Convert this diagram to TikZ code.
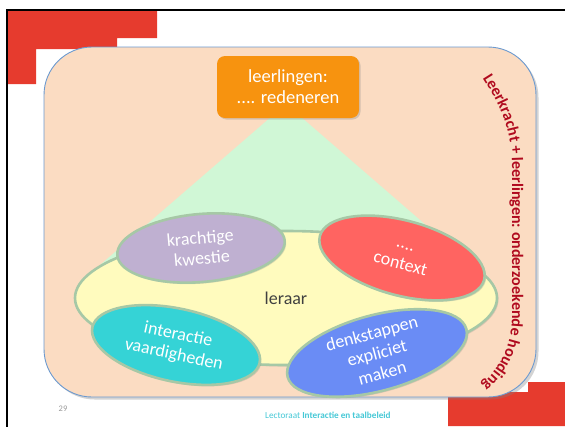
\documentclass[tikz,border=0pt]{standalone}
\usepackage{fontspec}
\setmainfont{Carlito}
\usetikzlibrary{shapes.geometric,decorations.text,shadows}
\definecolor{slidered}{HTML}{E63B2E}
\definecolor{peach}{HTML}{FBDCC2}
\definecolor{rectline}{HTML}{6C9AD0}
\definecolor{mint}{HTML}{D0F7D6}
\definecolor{lemon}{HTML}{FFFBBE}
\definecolor{ringgreen}{HTML}{A6C8A6}
\definecolor{lavender}{HTML}{BFB0D1}
\definecolor{salmon}{HTML}{FF6461}
\definecolor{turq}{HTML}{35D3D6}
\definecolor{cornflower}{HTML}{6A8CF5}
\definecolor{boxorange}{HTML}{F7930F}
\definecolor{wine}{HTML}{B00A1E}
\definecolor{footcyan}{HTML}{45C8D6}
\definecolor{darktext}{HTML}{404040}
\newcommand{\curvefont}{\fontsize{16}{18}\selectfont\bfseries}
\begin{document}
\begin{tikzpicture}[x=1pt,y=-1pt,
  blob/.style={ellipse, draw=ringgreen, line width=2.6pt, inner sep=0pt,
    text=white, align=center, font=\fontsize{18}{20.5}\selectfont,
    drop shadow={opacity=0.25, shadow xshift=1.5pt, shadow yshift=-1.5pt}},
  redblock/.style={fill=slidered, draw=none}]
\useasboundingbox (0,0) rectangle (565,426);
% red corner blocks
\fill[redblock] (7,10) -- (157,10) -- (157,38) -- (117,38) -- (117,49) -- (36,49) -- (36,84) -- (7,84) -- cycle;
\fill[redblock] (448,392) -- (528,392) -- (528,382) -- (565,382) -- (565,426) -- (448,426) -- cycle;
% black frame
\draw[line width=2.6pt, line cap=rect] (7,426) -- (7,10) -- (565,10);
% main rounded panel
\node[draw=rectline, line width=0.9pt, fill=peach, rounded corners=48pt,
  minimum width=492pt, minimum height=350pt, inner sep=0pt,
  drop shadow={opacity=0.35, shadow xshift=2.5pt, shadow yshift=-2.5pt}]
  (panel) at (290,222) {};
% triangle
\fill[mint] (286,104) -- (472,265) -- (100,265) -- cycle;
% yellow ellipse
\node[ellipse, draw=ringgreen, line width=2.6pt, fill=lemon, minimum width=422pt,
  minimum height=134pt, inner sep=0pt, text=darktext, font=\fontsize{18}{20}\selectfont,
  drop shadow={opacity=0.25, shadow xshift=1.5pt, shadow yshift=-1.5pt}]
  (leraar) at (286,298) {leraar};
% four ellipses
\node[blob, fill=lavender, minimum width=168pt, minimum height=68pt, rotate=5]
  (kwestie) at (201,248) {krachtige\\kwestie};
\node[blob, fill=salmon, minimum width=170pt, minimum height=75pt, rotate=-15]
  (context) at (402,258) {....\\context};
\node[blob, fill=turq, minimum width=171pt, minimum height=73pt, rotate=-12]
  (interactie) at (176,345) {interactie\\vaardigheden};
\node[blob, fill=cornflower, minimum width=185pt, minimum height=68pt, rotate=15]
  (denk) at (377,353) {denkstappen\\expliciet\\maken};
% orange box
\node[fill=boxorange, rounded corners=8pt, minimum width=142pt, minimum height=62pt,
  inner sep=0pt, text=white, align=center, font=\fontsize{18.5}{21}\selectfont,
  drop shadow={opacity=0.3, shadow xshift=1.5pt, shadow yshift=-1.5pt}]
  (redeneren) at (288,87) {leerlingen:\\.... redeneren};
% curved text
\path[decorate, decoration={text along path, text align=center,
  text={|\curvefont\color{wine}|Leerkracht + leerlingen: onderzoekende houding}}]
  (476,68) .. controls (496,98) and (512,125) .. (512,165) -- (512,315)
  .. controls (512,347) and (500,372) .. (472,392);
% footer
\node[font=\fontsize{8.5}{9}\selectfont, text=gray!80] (pagenum) at (63,409) {29};
\node[anchor=base west, font=\fontsize{9.2}{10}\selectfont, text=footcyan, inner sep=0pt]
  (footer) at (265,418) {Lectoraat \textbf{Interactie en taalbeleid}};
\end{tikzpicture}
\end{document}
